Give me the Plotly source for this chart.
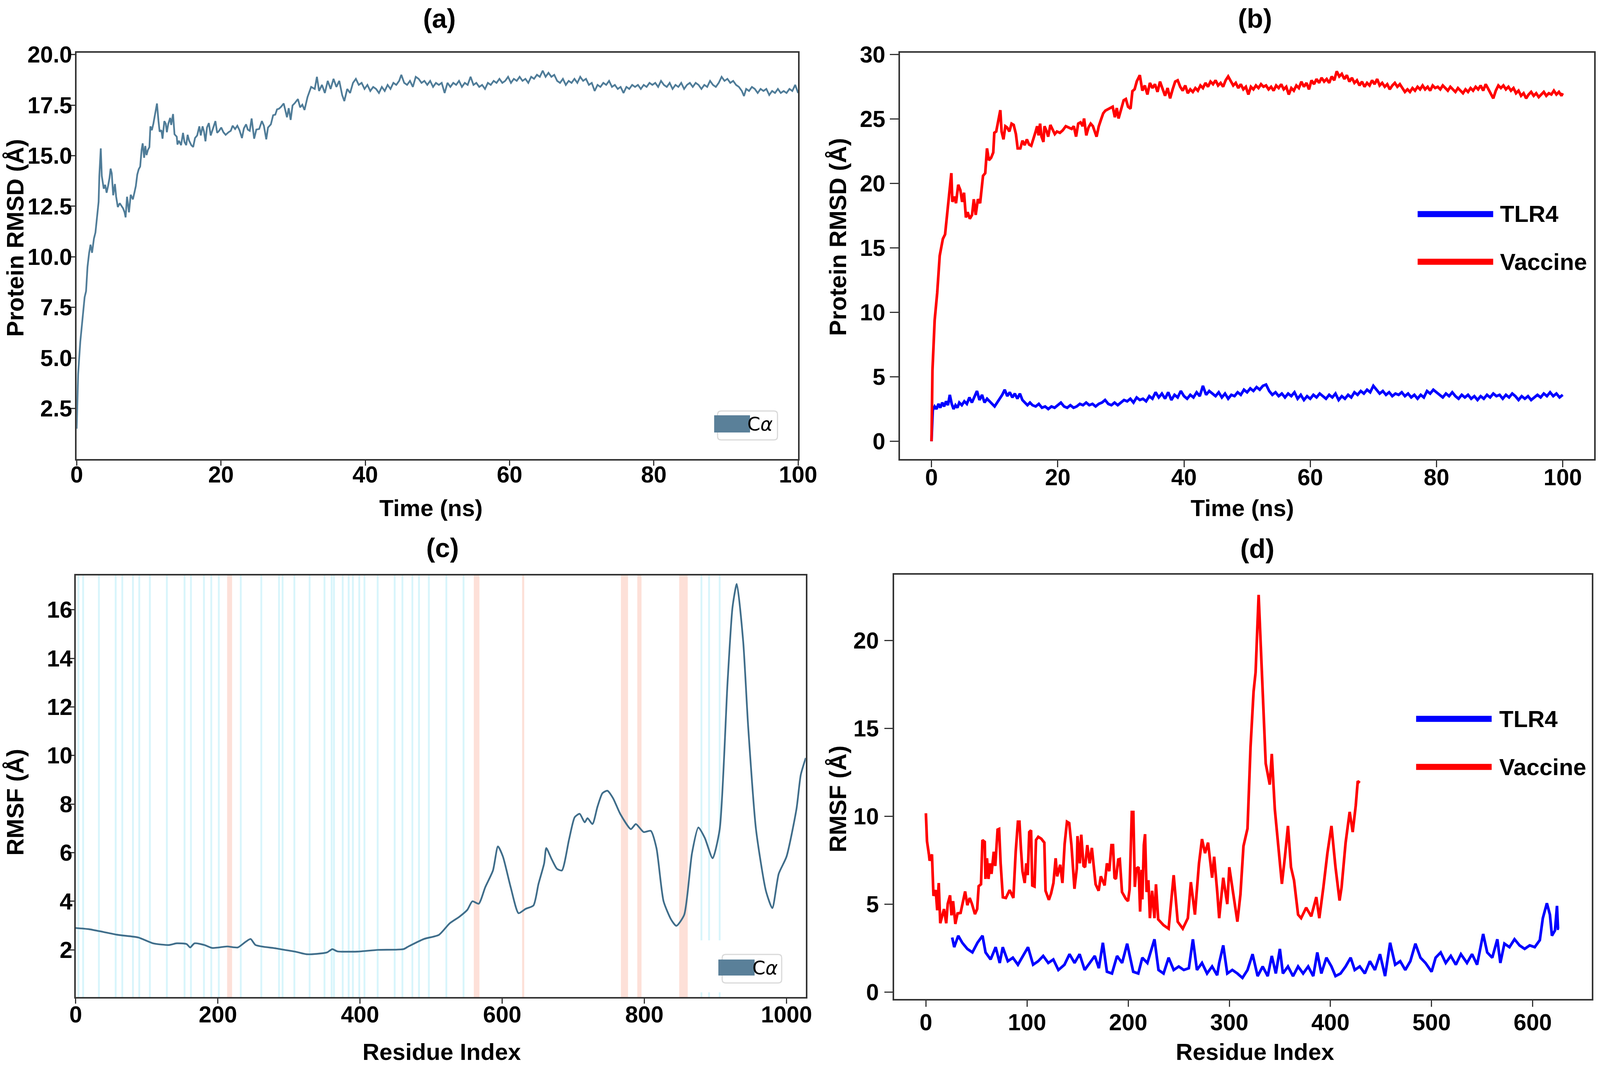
import plotly.graph_objects as go

# reference picture size (used only to express positions as fractions of the page)
W, H = 4194, 2726
S = 1 / 1.02  # css px per picture px

# ---------------- data ----------------
# (a) protein C-alpha RMSD vs time
a_time = [0.0, 0.2, 0.5, 0.8, 1.1, 1.3, 1.5, 1.72, 1.92, 2.13, 2.39, 2.6, 2.83, 3.04, 3.14, 3.34, 3.48, 3.75, 3.95,
          4.15, 4.35, 4.55, 4.7, 4.86, 5.06, 5.3, 5.47, 5.7, 5.97, 6.17, 6.44, 6.64, 6.78, 6.98, 7.25, 7.49, 7.79,
          8.0, 8.2, 8.4, 8.6, 8.8, 9.0, 9.15, 9.35, 9.51, 9.68, 9.88, 10.08, 10.22, 10.42, 10.63, 10.89, 11.13,
          11.34, 11.5, 11.74, 11.9, 12.15, 12.35, 12.5, 12.7, 12.96, 13.1, 13.36, 13.56, 13.87, 13.97, 14.17, 14.47,
          14.74, 14.94, 15.18, 15.38, 15.59, 15.89, 16.15, 16.4, 16.7, 17.0, 17.2, 17.45, 17.65, 17.85, 18.06,
          18.32, 18.58, 18.93, 19.23, 19.47, 19.74, 20.04, 20.34, 20.65, 21.05, 21.36, 21.62, 21.96, 22.27, 22.57,
          22.91, 23.18, 23.48, 23.72, 23.99, 24.25, 24.6, 24.9, 25.3, 25.67, 25.95, 26.28, 26.52, 26.92, 27.23,
          27.53, 27.77, 28.04, 28.34, 28.7, 28.95, 29.15, 29.39, 29.66, 29.92, 30.26, 30.67, 30.97, 31.28, 31.58,
          32.0, 32.5, 33.0, 33.3, 33.6, 34.0, 34.4, 34.8, 35.2, 35.6, 36.0, 36.4, 36.8, 37.1, 37.5, 37.9, 38.3,
          38.7, 39.1, 39.5, 39.9, 40.3, 40.7, 41.1, 41.5, 41.9, 42.3, 42.7, 43.1, 43.5, 43.9, 44.3, 44.7, 45.0,
          45.4, 45.8, 46.2, 46.6, 47.0, 47.4, 47.8, 48.2, 48.6, 49.0, 49.4, 49.8, 50.2, 50.6, 51.0, 51.4, 51.8,
          52.2, 52.6, 53.0, 53.4, 53.8, 54.2, 54.6, 55.0, 55.4, 55.8, 56.2, 56.6, 57.0, 57.4, 57.8, 58.2, 58.6,
          59.0, 59.4, 59.8, 60.2, 60.6, 61.0, 61.4, 61.8, 62.2, 62.6, 63.0, 63.4, 63.8, 64.2, 64.6, 65.0, 65.4,
          65.8, 66.2, 66.6, 67.0, 67.4, 67.8, 68.2, 68.6, 69.0, 69.4, 69.8, 70.2, 70.6, 71.0, 71.4, 71.8, 72.2,
          72.6, 73.0, 73.4, 73.8, 74.2, 74.6, 75.0, 75.4, 75.8, 76.2, 76.6, 77.0, 77.4, 77.8, 78.2, 78.6, 79.0,
          79.4, 79.8, 80.2, 80.6, 81.0, 81.4, 81.8, 82.2, 82.6, 83.0, 83.4, 83.8, 84.2, 84.6, 85.0, 85.4, 85.8,
          86.2, 86.6, 87.0, 87.4, 87.8, 88.2, 88.6, 89.0, 89.4, 89.8, 90.2, 90.6, 91.0, 91.4, 91.8, 92.2, 92.5,
          92.8, 93.2, 93.6, 94.0, 94.4, 94.8, 95.2, 95.6, 96.0, 96.4, 96.8, 97.2, 97.6, 98.0, 98.4, 98.8, 99.2,
          99.6, 100.0]
a_rmsd = [1.5, 4.2, 5.8, 7.0, 8.0, 8.3, 9.5, 10.18, 10.6, 10.2, 10.9, 11.2, 12.07, 12.72, 14.0, 15.36, 14.0, 13.37,
          13.56, 13.17, 13.5, 13.9, 14.36, 14.13, 13.04, 13.6, 12.97, 12.46, 12.65, 12.55, 12.39, 12.2, 11.95,
          12.97, 12.2, 13.07, 12.84, 13.17, 13.5, 14.07, 14.33, 14.46, 15.29, 15.61, 14.9, 15.48, 15.03, 15.29,
          15.42, 16.45, 16.26, 16.58, 17.09, 17.58, 16.71, 16.19, 16.26, 15.84, 16.71, 16.58, 16.16, 16.58, 16.87,
          16.52, 17.06, 16.06, 15.94, 15.55, 15.74, 15.52, 16.13, 15.68, 15.52, 16.03, 15.74, 15.52, 15.43, 15.87,
          16.0, 16.45, 16.0, 16.45, 16.19, 15.71, 16.39, 16.61, 16.0, 16.35, 16.71, 16.13, 16.23, 16.39, 16.16,
          16.03, 16.16, 16.23, 16.48, 16.32, 16.48, 16.26, 15.87, 16.35, 16.55, 16.29, 16.23, 16.84, 15.84, 16.29,
          16.32, 16.71, 16.48, 15.81, 16.39, 16.55, 17.0, 17.03, 17.29, 17.32, 17.42, 17.58, 17.23, 16.9, 17.35,
          16.77, 17.48, 17.61, 17.8, 17.39, 17.52, 17.26,
          17.9, 18.4, 18.3, 18.9, 18.2, 18.5, 18.1, 18.7, 18.3, 18.8, 18.4, 18.7, 18.0, 17.7, 18.3, 18.1, 18.6,
          18.8, 18.5, 18.6, 18.3, 18.5, 18.2, 18.4, 18.3, 18.1, 18.4, 18.2, 18.5, 18.3, 18.6, 18.5, 18.7, 19.0,
          18.6, 18.5, 18.7, 18.4, 18.9, 18.8, 18.6, 18.7, 18.5, 18.7, 18.4, 18.6, 18.5, 18.6, 18.1, 18.6, 18.4,
          18.6, 18.5, 18.7, 18.4, 18.6, 18.5, 18.9, 18.5, 18.6, 18.4, 18.5, 18.3, 18.6, 18.5, 18.7, 18.6, 18.8,
          18.6, 18.7, 18.9, 18.6, 18.8, 18.7, 18.9, 18.7, 18.8, 18.6, 18.9, 18.8, 19.0, 18.9, 19.2, 18.9, 19.1,
          18.9, 19.0, 18.7, 18.6, 18.8, 18.5, 18.7, 18.6, 18.8, 18.6, 18.9, 18.7, 18.8, 18.5, 18.6, 18.2, 18.5,
          18.4, 18.6, 18.5, 18.7, 18.4, 18.5, 18.3, 18.4, 18.1, 18.4, 18.3, 18.5, 18.4, 18.5, 18.3, 18.5, 18.4,
          18.6, 18.5, 18.6, 18.4, 18.7, 18.5, 18.4, 18.6, 18.3, 18.5, 18.4, 18.6, 18.3, 18.5, 18.6, 18.4, 18.6,
          18.5, 18.3, 18.5, 18.4, 18.7, 18.5, 18.4, 18.6, 18.9, 18.7, 18.8, 18.6, 18.7, 18.5, 18.4, 18.2, 17.95,
          18.3, 18.2, 18.4, 18.3, 18.1, 18.3, 18.2, 18.3, 18.0, 18.2, 18.1, 18.3, 18.1, 18.2, 18.1, 18.3, 18.2,
          18.5, 18.1]

# (b) protein RMSD of TLR4 and vaccine
b_vac_time = [0.0, 0.15, 0.5, 0.9, 1.3, 1.8, 2.15, 2.38, 2.84, 3.14, 3.3, 3.6, 3.88, 4.23, 4.57, 4.85, 5.15, 5.45,
              5.73, 6.07, 6.42, 6.7, 7.0, 7.35, 7.7, 7.93, 8.16, 8.51, 8.79, 9.09, 9.44, 9.78, 9.95, 10.25, 10.6,
              10.9, 11.1, 11.4, 11.7, 11.98, 12.33, 12.68, 13.02, 13.37, 13.65, 14.07, 14.41, 14.76, 15.11, 15.45,
              15.8, 16.15, 16.5, 16.73, 16.96, 17.2, 17.43, 17.73, 17.9, 18.25, 18.48, 18.83, 19.18, 19.53, 19.87,
              20.34, 20.8, 21.27, 21.73, 22.2, 22.54, 22.9, 23.24, 23.6, 23.94, 24.17, 24.52, 24.87, 25.22, 25.57,
              26.15, 26.5, 26.84, 27.2, 27.54, 27.89, 28.35, 28.7, 29.05, 29.35, 29.63, 29.98, 30.44, 30.79, 31.14,
              31.53, 31.83, 32.18, 32.52,
              33.0, 33.4, 33.8, 34.2, 34.6, 35.0, 35.4, 35.8, 36.2, 36.6, 37.0, 37.4, 37.8, 38.2, 38.6, 39.0, 39.4,
              39.8, 40.2, 40.6, 41.0, 41.4, 41.8, 42.2, 42.6, 43.0, 43.4, 43.8, 44.2, 44.6, 45.0, 45.4, 45.8, 46.2,
              46.6, 47.0, 47.4, 47.8, 48.2, 48.6, 49.0, 49.4, 49.8, 50.2, 50.6, 51.0, 51.4, 51.8, 52.2, 52.6, 53.0,
              53.4, 53.8, 54.2, 54.6, 55.0, 55.4, 55.8, 56.2, 56.6, 57.0, 57.4, 57.8, 58.2, 58.6, 59.0, 59.4, 59.8,
              60.2, 60.6, 61.0, 61.4, 61.8, 62.2, 62.6, 63.0, 63.4, 63.8, 64.2, 64.6, 65.0, 65.4, 65.8, 66.2, 66.6,
              67.0, 67.4, 67.8, 68.2, 68.6, 69.0, 69.4, 69.8, 70.2, 70.6, 71.0, 71.4, 71.8, 72.2, 72.6, 73.0, 73.4,
              73.8, 74.2, 74.6, 75.0, 75.4, 75.8, 76.2, 76.6, 77.0, 77.4, 77.8, 78.2, 78.6, 79.0, 79.4, 79.8, 80.2,
              80.6, 81.0, 81.4, 81.8, 82.2, 82.6, 83.0, 83.4, 83.8, 84.2, 84.6, 85.0, 85.4, 85.8, 86.2, 86.6, 87.0,
              87.4, 87.8, 88.2, 88.6, 89.0, 89.4, 89.8, 90.2, 90.6, 91.0, 91.4, 91.8, 92.2, 92.6, 93.0, 93.4, 93.8,
              94.2, 94.6, 95.0, 95.4, 95.8, 96.2, 96.6, 97.0, 97.4, 97.8, 98.2, 98.6, 99.0, 99.4, 99.8, 100.0]
b_vac_rmsd = [0.0, 5.5, 9.4, 11.5, 14.4, 15.7, 16.05, 17.06, 19.08, 20.8, 18.57, 18.98, 18.47, 19.9, 19.48, 18.57,
              19.28, 17.36, 17.77, 17.26, 17.56, 18.78, 17.56, 18.78, 18.47, 19.68, 20.59, 20.8, 22.72, 21.8, 21.99,
              22.4, 23.93, 24.03, 24.84, 25.69, 24.03, 23.42, 24.44, 24.34, 24.03, 24.64, 24.54, 23.83, 22.72, 22.72,
              23.32, 22.97, 23.42, 23.02, 22.92, 23.42, 24.03, 24.44, 23.73, 24.64, 23.63, 23.22, 24.44, 24.03,
              23.63, 24.54, 24.23, 23.83, 24.03, 23.93, 24.13, 24.44, 24.34, 24.23, 24.44, 23.63, 24.64, 24.74,
              24.44, 25.04, 23.73, 24.34, 24.64, 24.44, 23.63, 24.44, 24.94, 25.44, 25.65, 25.75, 25.85, 25.95,
              25.14, 25.85, 25.04, 25.65, 26.45, 26.55, 25.95, 25.8, 27.16, 27.31, 27.92,
              28.4, 27.2, 27.6, 26.9, 27.8, 27.4, 27.7, 27.1, 27.9, 27.3, 26.8, 27.4, 26.6, 27.3, 27.9, 28.0, 27.5,
              27.2, 27.6, 27.0, 27.3, 27.1, 27.4, 27.2, 27.6, 27.4, 27.8, 27.5, 27.9, 27.7, 28.0, 27.6, 27.8, 27.5,
              28.0, 28.3, 27.9, 27.6, 27.8, 27.4, 27.7, 27.3, 27.5, 26.9, 27.5, 27.3, 27.6, 27.4, 27.7, 27.5, 27.6,
              27.3, 27.5, 27.2, 27.6, 27.4, 27.7, 27.3, 27.5, 26.9, 27.4, 27.2, 27.6, 27.4, 27.9, 27.5, 27.8, 27.3,
              28.0, 27.7, 28.1, 27.8, 28.2, 27.9, 28.1, 27.8, 28.3, 28.0, 28.7, 28.3, 28.5, 28.1, 28.4, 27.9, 28.2,
              27.8, 28.0, 27.6, 27.9, 27.5, 27.8, 27.6, 28.0, 27.7, 28.1, 27.6, 27.8, 27.5, 27.7, 27.3, 27.6, 27.8,
              27.5, 27.7, 27.4, 27.1, 27.3, 27.1, 27.4, 27.2, 27.5, 27.3, 27.6, 27.3, 27.5, 27.2, 27.6, 27.4, 27.5,
              27.3, 27.6, 27.4, 27.2, 27.5, 27.3, 27.1, 27.4, 27.2, 27.0, 27.3, 27.1, 27.4, 27.2, 27.5, 27.3, 27.6,
              27.2, 27.7, 27.3, 27.0, 26.6, 27.2, 27.6, 27.4, 27.6, 27.3, 27.5, 27.2, 27.4, 27.0, 27.2, 26.8, 27.0,
              26.6, 26.9, 27.1, 26.8, 27.0, 26.7, 26.9, 27.1, 26.8, 27.0, 26.9, 27.2, 26.9, 27.1, 26.8, 27.0]

b_tlr_time = [0.0, 0.2, 0.5, 0.8, 1.1, 1.4, 1.7, 2.0, 2.3, 2.6, 2.9, 3.2, 3.5, 3.8, 4.1, 4.4, 4.8, 5.2, 5.6, 6.0,
              6.4, 6.8, 7.2, 7.6, 8.0, 8.4, 8.8, 9.2, 9.6, 10.0, 10.4, 10.8, 11.2, 11.6, 12.0, 12.4, 12.8, 13.2,
              13.6, 14.0, 14.4, 14.8, 15.2, 15.6, 16.0, 16.5, 17.0, 17.5, 18.0, 18.5, 19.0, 19.5, 20.0, 20.5, 21.0,
              21.5, 22.0, 22.5, 23.0, 23.5, 24.0, 24.5, 25.0, 25.5, 26.0, 26.5, 27.0, 27.5, 28.0, 28.5, 29.0, 29.5,
              30.0, 30.5, 31.0, 31.5, 32.0, 32.5, 33.0, 33.5, 34.0, 34.5, 35.0, 35.5, 36.0, 36.5, 37.0, 37.5, 38.0,
              38.5, 39.0, 39.5, 40.0, 40.5, 41.0, 41.5, 42.0, 42.5, 43.0, 43.5, 44.0, 44.5, 45.0, 45.5, 46.0, 46.5,
              47.0, 47.5, 48.0, 48.5, 49.0, 49.5, 50.0, 50.5, 51.0, 51.5, 52.0, 52.5, 53.0, 53.5, 54.0, 54.5, 55.0,
              55.5, 56.0, 56.5, 57.0, 57.5, 58.0, 58.5, 59.0, 59.5, 60.0, 60.5, 61.0, 61.5, 62.0, 62.5, 63.0, 63.5,
              64.0, 64.5, 65.0, 65.5, 66.0, 66.5, 67.0, 67.5, 68.0, 68.5, 69.0, 69.5, 70.0, 70.5, 71.0, 71.5, 72.0,
              72.5, 73.0, 73.5, 74.0, 74.5, 75.0, 75.5, 76.0, 76.5, 77.0, 77.5, 78.0, 78.5, 79.0, 79.5, 80.0, 80.5,
              81.0, 81.5, 82.0, 82.5, 83.0, 83.5, 84.0, 84.5, 85.0, 85.5, 86.0, 86.5, 87.0, 87.5, 88.0, 88.5, 89.0,
              89.5, 90.0, 90.5, 91.0, 91.5, 92.0, 92.5, 93.0, 93.5, 94.0, 94.5, 95.0, 95.5, 96.0, 96.5, 97.0, 97.5,
              98.0, 98.5, 99.0, 99.5, 100.0]
b_tlr_rmsd = [0.0, 2.4, 2.7, 2.5, 2.9, 2.6, 3.0, 2.7, 3.1, 2.8, 3.6, 2.9, 2.5, 2.8, 2.6, 3.0, 2.8, 3.1, 2.9, 3.4,
              3.0, 3.5, 3.9, 3.2, 3.6, 3.0, 3.3, 3.1, 2.9, 2.7, 3.0, 3.3, 3.6, 4.0, 3.5, 3.8, 3.4, 3.7, 3.3, 3.7,
              3.2, 3.0, 2.8, 3.0, 2.8, 2.7, 2.9, 2.6, 2.7, 2.5, 2.7, 2.6, 2.8, 3.0, 2.7, 2.6, 2.8, 2.6, 2.7, 2.9,
              2.8, 3.0, 2.8, 2.9, 2.7, 2.9, 3.0, 3.2, 2.9, 2.8, 3.0, 2.8, 3.0, 3.2, 3.1, 3.3, 3.0, 3.4, 3.2, 3.3,
              3.1, 3.5, 3.3, 3.8, 3.4, 3.7, 3.3, 3.8, 3.2, 3.6, 3.4, 3.9, 3.5, 3.3, 3.6, 3.4, 3.8, 3.5, 4.3, 3.6,
              3.9, 3.7, 3.5, 3.8, 3.4, 3.7, 3.3, 3.6, 3.5, 3.8, 3.6, 4.0, 3.8, 4.1, 3.9, 4.2, 4.0, 4.3, 4.4, 3.9,
              3.6, 3.8, 3.5, 3.7, 3.4, 3.7, 3.5, 3.8, 3.3, 3.6, 3.2, 3.5, 3.3, 3.6, 3.4, 3.7, 3.5, 3.3, 3.6, 3.4,
              3.7, 3.2, 3.5, 3.3, 3.6, 3.4, 3.8, 3.6, 3.9, 3.7, 4.0, 3.8, 4.3, 4.0, 3.7, 3.9, 3.6, 3.8, 3.5, 3.7,
              3.6, 3.8, 3.5, 3.7, 3.4, 3.6, 3.3, 3.6, 3.4, 3.9, 3.7, 4.0, 3.8, 3.6, 3.4, 3.7, 3.5, 3.8, 3.5, 3.3,
              3.6, 3.4, 3.6, 3.3, 3.5, 3.2, 3.5, 3.3, 3.6, 3.4, 3.7, 3.5, 3.6, 3.3, 3.6, 3.4, 3.7, 3.5, 3.2, 3.5,
              3.3, 3.5, 3.2, 3.4, 3.6, 3.4, 3.7, 3.5, 3.8, 3.5, 3.7, 3.4, 3.6]

# (c) C-alpha RMSF of the complex, with secondary-structure regions
c_res = [0, 19, 59, 88, 109, 131, 142, 156, 161, 167, 181, 192, 213, 228, 238, 246, 253, 282, 310, 325, 353, 361,
         368, 396, 425, 461, 468, 490, 511, 526, 540, 551, 558, 567, 576, 587, 594, 601, 612, 623, 633, 644, 651,
         659, 662, 669, 677, 684, 694, 702, 709, 716, 720, 727, 734, 741, 748, 756, 766, 781, 788, 799, 809, 817,
         827, 838, 845, 856, 867, 876, 885, 896, 906, 917, 924, 930, 939, 946, 957, 971, 980, 989, 1000, 1014,
         1020, 1027]
c_rmsf = [2.90, 2.85, 2.62, 2.51, 2.27, 2.20, 2.27, 2.24, 2.10, 2.27, 2.20, 2.08, 2.14, 2.10, 2.31, 2.45, 2.20,
          2.06, 1.92, 1.82, 1.89, 2.03, 1.94, 1.93, 2.00, 2.03, 2.14, 2.45, 2.62, 3.09, 3.37, 3.65, 4.00, 3.90,
          4.57, 5.27, 6.26, 5.84, 4.57, 3.51, 3.69, 3.83, 4.71, 5.56, 6.19, 5.77, 5.34, 5.27, 6.54, 7.46, 7.60,
          7.25, 7.42, 7.18, 7.89, 8.45, 8.55, 8.24, 7.60, 6.97, 7.18, 6.85, 6.90, 6.19, 4.00, 3.23, 2.99, 3.44,
          5.98, 7.04, 6.61, 5.77, 6.97, 13.0, 16.1, 17.06, 14.7, 11.2, 6.97, 4.43, 3.72, 5.13, 5.84, 7.8, 9.2, 9.9]
c_strand_res = [3.8, 10.4, 32.6, 56.2, 65.5, 80.5, 89.4, 104.3, 128.2, 153.1, 162.1, 180.4, 190.7, 201.3, 232.2,
                261.1, 286, 291, 307.6, 329.1, 350, 360, 363.3, 375.6, 384, 389.9, 398.9, 406.2, 424.8, 448.7,
                459.6, 473.6, 482.9, 496.8, 521.4, 545.6, 880.3, 891, 905.9]
c_helix_start = [213, 560, 628, 767, 790, 849]
c_helix_end = [220, 568, 631, 777, 796, 861]

# (d) RMSF per chain
d_vac_res = [0, 1.1, 3.0, 3.7, 6.0, 7.5, 9.7, 11.2, 12.7, 14.2, 17.9, 20.1, 21.6, 23.9, 25.3, 26.9, 29.1, 31.3,
             34.3, 36.6, 38.8, 41.0, 43.3, 45.5, 48.5, 50.7, 52.2, 54.5, 55.9, 58.2, 58.9, 60.4, 61.9, 63.4, 64.9,
             67.1, 68.6, 70.9, 72.4, 73.9, 76.1, 79.1, 82.8, 86.5, 88.8, 91.0, 92.5, 94.0, 95.5, 97.7, 99.2, 100.7,
             102.2, 104.0, 105.2, 107.4, 108.9, 111.1, 114.1, 117.1, 118.3, 121.6, 123.8, 126.1, 128.3, 129.8,
             132.8, 135.0, 137.2, 139.5, 141.7, 143.9, 146.9, 149.2, 149.9, 152.2, 153.6, 155.9, 157.4, 159.6,
             161.9, 164.1, 165.6, 167.8, 170.8, 173.0, 176.7, 179.0, 181.3, 183.5, 185.0, 186.5, 187.9, 190.2,
             191.7, 193.9, 197.6, 199.9, 201.4, 203.6, 205.1, 206.6, 208.1, 210.3, 211.8, 213.3, 214.0, 215.5,
             216.7, 218.2, 220.0, 221.5, 223.7, 226.0, 227.5, 229.7,
             235, 240, 245, 249, 254, 259, 262, 266, 270, 273, 276, 279, 283, 285, 288, 290, 294, 298, 300, 304,
             308, 311, 314, 318, 321, 324, 326, 329, 331, 334, 336, 340, 342, 345, 348, 352, 355, 358, 361, 364,
             368, 371, 376, 381, 386, 389, 393, 397, 401, 405, 409, 411, 415, 419, 422, 425, 427, 429]
d_vac_rmsf = [10.17, 8.58, 7.83, 7.47, 7.83, 5.47, 5.8, 4.65, 6.2, 3.91, 4.72, 3.91, 5.02, 5.5, 4.36, 5.17, 3.87,
              4.47, 4.5, 5.05, 5.72, 4.94, 5.35, 5.02, 4.43, 4.72, 6.02, 6.13, 8.65, 8.54, 6.43, 7.61, 6.43, 7.32,
              6.72, 7.98, 7.17, 9.24, 9.28, 7.32, 5.39, 5.35, 5.8, 5.35, 7.98, 9.69, 9.69, 8.13, 6.87, 6.2, 7.32,
              6.65, 9.1, 9.2, 6.06, 6.0, 8.65, 8.83, 8.72, 8.5, 5.76, 5.24, 5.61, 6.2, 7.61, 6.58, 7.24, 6.2, 8.43,
              9.69, 9.61, 8.36, 5.87, 7.02, 8.87, 7.32, 8.95, 7.17, 7.1, 8.36, 7.32, 8.2, 7.32, 6.13, 5.76, 6.58,
              6.06, 7.32, 6.87, 8.36, 8.36, 6.5, 6.43, 7.54, 7.57, 5.69, 5.31, 5.17, 5.83, 10.24, 10.24, 5.98,
              7.02, 7.1, 4.57, 6.95, 5.27, 8.36, 8.98, 5.69, 6.36, 4.2, 5.76, 4.2, 6.13, 4.13,
              3.8, 3.6, 6.65, 4.0, 3.6, 4.2, 6.25, 4.4, 7.3, 8.7, 7.9, 8.5, 6.5, 7.7, 5.75, 4.2, 6.5, 5.0, 7.1,
              5.55, 4.0, 5.55, 8.3, 9.3, 13.95, 17.1, 18.2, 22.6, 20.0, 15.3, 13.0, 11.8, 13.55, 10.4, 8.7, 6.15,
              7.7, 9.45, 7.1, 6.35, 4.4, 4.2, 4.8, 4.3, 5.4, 4.2, 5.95, 7.9, 9.45, 7.1, 5.2, 5.95, 8.5, 10.25, 9.1,
              10.6, 12.0, 11.9]
d_tlr_res = [26, 28, 32, 36, 41, 46, 51, 56, 59, 64, 69, 73, 76, 81, 86, 91, 96, 101, 106, 111, 116, 121, 126,
             131, 137, 142, 147, 152, 157, 162, 167, 171, 175, 179, 184, 189, 194, 199, 205, 210, 214, 219, 223,
             226, 230, 235, 240, 245, 250, 255, 260, 264, 268, 273, 278, 283, 288, 290, 294, 298, 303, 308, 313,
             318, 323, 328, 333, 338, 342, 346, 350, 353, 358, 363, 368, 373, 378, 383, 387, 391, 396, 401, 405,
             410, 415, 420, 424, 429, 434, 439, 444, 449, 454, 459, 464, 469, 474, 479, 484, 489, 494, 500, 504,
             509, 514, 519, 524, 529, 535, 540, 545, 551, 555, 560, 565, 568, 572, 577, 582, 587, 592, 597, 602,
             607, 610, 614, 617, 619, 622, 624, 625, 626]
d_tlr_rmsf = [3.1, 2.55, 3.2, 2.8, 2.45, 2.25, 2.8, 3.2, 2.25, 1.85, 2.55, 1.65, 2.55, 1.75, 1.95, 1.55, 2.05,
              2.55, 1.55, 1.75, 2.05, 1.65, 1.85, 1.25, 1.55, 2.15, 1.65, 2.15, 1.25, 1.65, 2.05, 1.35, 2.8, 1.15,
              1.05, 2.05, 1.65, 2.75, 1.15, 1.05, 1.95, 1.65, 2.45, 3.0, 1.25, 1.05, 1.95, 1.25, 1.45, 1.25, 1.35,
              3.0, 1.25, 1.65, 1.05, 1.45, 0.95, 1.65, 2.65, 1.05, 1.25, 1.05, 0.8, 1.25, 2.15, 0.9, 1.45, 0.9,
              2.05, 1.05, 2.45, 1.05, 1.45, 0.9, 1.45, 1.05, 1.45, 0.9, 2.25, 1.05, 1.95, 1.45, 0.9, 1.05, 1.45,
              1.95, 1.25, 1.45, 1.05, 1.75, 1.25, 2.15, 0.9, 2.8, 1.55, 1.75, 1.25, 1.75, 2.75, 1.95, 1.65, 1.15,
              1.95, 2.25, 1.65, 2.05, 1.55, 2.15, 1.65, 2.15, 1.55, 3.3, 2.25, 1.95, 3.0, 1.65, 2.75, 2.55, 3.0,
              2.65, 2.45, 2.65, 2.55, 2.95, 4.2, 5.05, 4.4, 3.2, 3.5, 4.9, 3.6, 3.6]

# ---------------- helpers ----------------
def fx(px):
    return px / W


def fy(py):
    return 1 - py / H


def sz(v):
    return round(v * S, 2)


FONT = "Liberation Sans, Arial, Helvetica, sans-serif"
AXCOL = "#333333"
STEEL_A = "#4f7c98"
STEEL_C = "#3f6d8a"
PATCH = "#5a8099"

fig = go.Figure()

fig.add_trace(go.Scatter(x=a_time, y=a_rmsd, mode="lines", line=dict(color=STEEL_A, width=sz(4.5)),
                         xaxis="x", yaxis="y", showlegend=False))
fig.add_trace(go.Scatter(x=b_tlr_time, y=b_tlr_rmsd, mode="lines", line=dict(color="#0000ff", width=sz(7)),
                         xaxis="x2", yaxis="y2", showlegend=False))
fig.add_trace(go.Scatter(x=b_vac_time, y=b_vac_rmsd, mode="lines", line=dict(color="#ff0000", width=sz(7)),
                         xaxis="x2", yaxis="y2", showlegend=False))
fig.add_trace(go.Scatter(x=c_res, y=c_rmsf, mode="lines",
                         line=dict(color=STEEL_C, width=sz(4.5), shape="spline", smoothing=0.6),
                         xaxis="x3", yaxis="y3", showlegend=False))
fig.add_trace(go.Scatter(x=d_tlr_res, y=d_tlr_rmsf, mode="lines", line=dict(color="#0000ff", width=sz(7)),
                         xaxis="x4", yaxis="y4", showlegend=False))
fig.add_trace(go.Scatter(x=d_vac_res, y=d_vac_rmsf, mode="lines", line=dict(color="#ff0000", width=sz(7)),
                         xaxis="x4", yaxis="y4", showlegend=False))

# secondary structure background in (c)
for r in c_strand_res:
    fig.add_shape(type="rect", xref="x3", yref="y3 domain", x0=r - 1.3, x1=r + 1.3, y0=0, y1=1,
                  fillcolor="#d8f5fb", line=dict(width=0), layer="below")
for s, e in zip(c_helix_start, c_helix_end):
    fig.add_shape(type="rect", xref="x3", yref="y3 domain", x0=s, x1=e, y0=0, y1=1,
                  fillcolor="#fde0d8", line=dict(width=0), layer="below")
# white legend backdrop in (c)
fig.add_shape(type="rect", xref="paper", yref="paper", x0=fx(1830), x1=fx(2080), y0=fy(2540), y1=fy(2407),
              fillcolor="white", line=dict(width=0), layer="below")


def rounded_box(x0, y0, x1, y1, r=9):
    # pixel coordinates (y down) -> paper path
    X = lambda v: f"{fx(v):.6f}"
    Y = lambda v: f"{fy(v):.6f}"
    return (f"M {X(x0 + r)},{Y(y0)} L {X(x1 - r)},{Y(y0)} Q {X(x1)},{Y(y0)} {X(x1)},{Y(y0 + r)} "
            f"L {X(x1)},{Y(y1 - r)} Q {X(x1)},{Y(y1)} {X(x1 - r)},{Y(y1)} "
            f"L {X(x0 + r)},{Y(y1)} Q {X(x0)},{Y(y1)} {X(x0)},{Y(y1 - r)} "
            f"L {X(x0)},{Y(y0 + r)} Q {X(x0)},{Y(y0)} {X(x0 + r)},{Y(y0)} Z")


annotations = []

# C-alpha legends in (a) and (c)
for box, patch, txt in [((1881, 1052, 2038, 1126), (1872, 1063, 1966, 1107), (1957, 1085)),
                        ((1893, 2443, 2049, 2516), (1883, 2456, 1978, 2497), (1970, 2477))]:
    fig.add_shape(type="path", path=rounded_box(*box), xref="paper", yref="paper",
                  fillcolor="rgba(255,255,255,0.9)", line=dict(color="#d9d9d9", width=sz(3)))
    fig.add_shape(type="rect", xref="paper", yref="paper", x0=fx(patch[0]), x1=fx(patch[2]),
                  y0=fy(patch[3]), y1=fy(patch[1]), fillcolor=PATCH, line=dict(width=0))
    annotations.append(dict(x=fx(txt[0]), y=fy(txt[1]), xref="paper", yref="paper", text="C<i>α</i>",
                            showarrow=False, xanchor="left", yanchor="middle",
                            font=dict(family="DejaVu Sans, sans-serif", size=sz(49), color="black")))

# line legends in (b) and (d)
for (ytl, yvac, xl0, xl1, xt) in [(548, 670, 3716, 3914, 3930), (1840, 1963, 3712, 3910, 3928)]:
    for yy, col, name in [(ytl, "#0000ff", "TLR4"), (yvac, "#ff0000", "Vaccine")]:
        fig.add_shape(type="line", xref="paper", yref="paper", x0=fx(xl0), x1=fx(xl1), y0=fy(yy), y1=fy(yy),
                      line=dict(color=col, width=sz(16)))
        annotations.append(dict(x=fx(xt), y=fy(yy), xref="paper", yref="paper", text=f"<b>{name}</b>",
                                showarrow=False, xanchor="left", yanchor="middle",
                                font=dict(family=FONT, size=sz(61), color="black")))

# panel titles
for txt, x, y in [("(a)", 1152, 47), ("(b)", 3290, 47), ("(c)", 1160, 1403), ("(d)", 3296, 1404)]:
    annotations.append(dict(x=fx(x), y=fy(y), xref="paper", yref="paper", text=f"<b>{txt}</b>",
                            showarrow=False, xanchor="center", yanchor="middle",
                            font=dict(family=FONT, size=sz(70), color="black")))

# axis titles
for txt, x, y in [("Time (ns)", 1130, 1300), ("Time (ns)", 3257, 1300),
                  ("Residue Index", 1158, 2692), ("Residue Index", 3289, 2692)]:
    annotations.append(dict(x=fx(x), y=fy(y), xref="paper", yref="paper", text=f"<b>{txt}</b>",
                            showarrow=False, xanchor="center", yanchor="middle",
                            font=dict(family=FONT, size=sz(61), color="black")))
for txt, x, y in [("Protein RMSD (Å)", 40, 609), ("Protein RMSD (Å)", 2196, 607),
                  ("RMSF (Å)", 40, 2054), ("RMSF (Å)", 2196, 2045)]:
    annotations.append(dict(x=fx(x), y=fy(y), xref="paper", yref="paper", text=f"<b>{txt}</b>",
                            showarrow=False, xanchor="center", yanchor="middle", textangle=-90,
                            font=dict(family=FONT, size=sz(62), color="black")))


def ax(domain, rng, tickvals, anchor, fmt=None, standoff=0, ticklen=13):
    d = dict(domain=domain, range=rng, tickvals=tickvals, showline=True, mirror=True, linecolor=AXCOL,
             linewidth=sz(4), ticks="outside", ticklen=sz(ticklen), tickwidth=sz(3), tickcolor=AXCOL,
             showgrid=False, zeroline=False, automargin=False, ticklabelstandoff=standoff,
             tickfont=dict(family=FONT, size=sz(60), color="black", weight="bold"), anchor=anchor)
    if fmt:
        d["tickformat"] = fmt
    return d


fig.update_layout(
    autosize=True, margin=dict(l=0, r=0, t=0, b=0, pad=0),
    paper_bgcolor="white", plot_bgcolor="white", showlegend=False,
    xaxis=ax([fx(201), fx(2092)], [0, 100], [0, 20, 40, 60, 80, 100], "y", standoff=-27),
    yaxis=ax([fy(1175), fy(135)], [0.0, 20.09], [2.5, 5, 7.5, 10, 12.5, 15, 17.5, 20], "x", fmt=".1f",
             standoff=-17),
    xaxis2=ax([fx(2359), fx(4179)], [-5, 105], [0, 20, 40, 60, 80, 100], "y2", standoff=-24, ticklen=17),
    yaxis2=ax([fy(1175), fy(135)], [-1.38, 30.14], [0, 5, 10, 15, 20, 25, 30], "x2", standoff=0, ticklen=22),
    xaxis3=ax([fx(198.5), fx(2112)], [0, 1027], [0, 200, 400, 600, 800, 1000], "y3", standoff=-22),
    yaxis3=ax([fy(2552), fy(1473)], [0.06, 17.41], [2, 4, 6, 8, 10, 12, 14, 16], "x3", standoff=-20),
    xaxis4=ax([fx(2344), fx(4173)], [-31.3, 658.6], [0, 100, 200, 300, 400, 500, 600], "y4", standoff=-10,
              ticklen=16),
    yaxis4=ax([fy(2557), fy(1471)], [-0.4, 23.75], [0, 5, 10, 15, 20], "x4", standoff=2, ticklen=22),
    annotations=annotations,
)

fig.write_html("out.html", default_width="100vw", default_height="100vh",
               config={"displayModeBar": False, "responsive": True},
               post_script="document.body.style.margin='0';document.body.style.overflow='hidden';")
